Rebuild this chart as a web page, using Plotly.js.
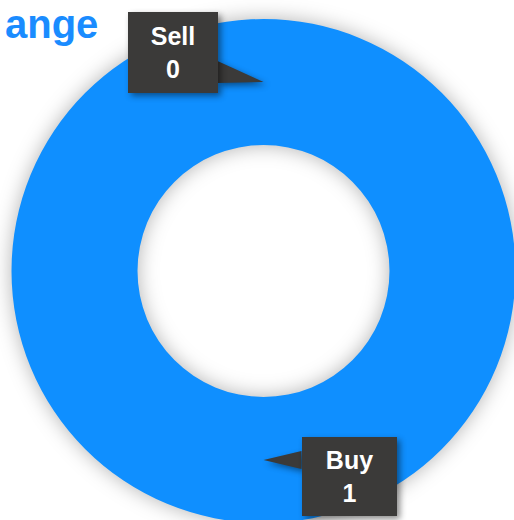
<!DOCTYPE html>
<html>
<head>
<meta charset="utf-8">
<script src="https://cdn.plot.ly/plotly-3.0.1.min.js"></script>
<style>
  html, body { margin: 0; padding: 0; overflow: hidden; background: #fff; }
  #chart { width: 520px; height: 524px; }
  .pielayer path.surface { filter: drop-shadow(0px 0px 10px rgba(0,0,0,0.3)); }
  .shapelayer path, .annotation-text-g rect.bg { filter: drop-shadow(3px 3px 3px rgba(0,0,0,0.45)); }
</style>
</head>
<body>
<div id="chart"></div>
<script>
// ---- data ----
const labels = ['Buy', 'Sell'];
const values = [1, 0];
const titleText = 'ange';

// ---- style / layout config ----
const W = 520, H = 524;
const M = { l: 11, r: 4, t: 19, b: 1 };
const HOLE = 0.5;
const sliceColor = '#0f8fff';
const boxColor = '#3b3a39';
// callout geometry per slice (pixels relative to the ring mid-point of the slice; y down)
const callout = {
  Buy:  { dx: 85.5, dy: 16.5, w: 95, h: 79, tri: 'M0,0 L38,9 L38,-9 Z' },
  Sell: { dx: -91,  dy: -29.5, w: 90, h: 81, tri: 'M0,0 L-46,21 L-46,-1 Z' }
};

const plotW = W - M.l - M.r, plotH = H - M.t - M.b;
const R = Math.min(plotW, plotH) / 2;
const rMid = R * (1 + HOLE) / 2;
const total = values.reduce((a, b) => a + b, 0);

const annotations = [];
const shapes = [];
let cum = 0;
labels.forEach((lab, i) => {
  const frac = (cum + values[i] / 2) / total;
  cum += values[i];
  const theta = frac * 2 * Math.PI; // from 12 o'clock, counterclockwise
  const tipPx = { x: plotW / 2 - rMid * Math.sin(theta), y: plotH / 2 - rMid * Math.cos(theta) }; // y from top
  const px = tipPx.x / plotW, py = 1 - tipPx.y / plotH; // paper coords (y from bottom)
  const c = callout[lab];
  shapes.push({
    type: 'path', xref: 'paper', yref: 'paper', layer: 'above',
    xsizemode: 'pixel', ysizemode: 'pixel', xanchor: px, yanchor: py,
    path: c.tri, fillcolor: boxColor, line: { width: 0 }
  });
  annotations.push({
    xref: 'paper', yref: 'paper', x: px, y: py,
    xanchor: 'center', yanchor: 'middle',
    xshift: c.dx, yshift: -c.dy,
    showarrow: false,
    text: lab + '<br>' + values[i],
    font: { family: 'Liberation Sans, Arial, sans-serif', size: 25, color: '#ffffff', weight: 'bold' },
    bgcolor: boxColor, borderpad: 0, borderwidth: 0,
    width: c.w, height: c.h, align: 'center', valign: 'middle'
  });
});

const trace = {
  type: 'pie',
  labels: labels,
  values: values,
  hole: HOLE,
  sort: false,
  direction: 'counterclockwise',
  rotation: 0,
  textinfo: 'none',
  hoverinfo: 'skip',
  showlegend: false,
  marker: { colors: labels.map(() => sliceColor), line: { width: 0 } }
};

const layout = {
  width: W, height: H,
  margin: M,
  paper_bgcolor: '#ffffff',
  plot_bgcolor: '#ffffff',
  showlegend: false,
  title: {
    text: titleText,
    font: { family: 'Liberation Sans, Arial, sans-serif', size: 40, color: '#1a8cff', weight: 'bold' },
    xref: 'container', yref: 'container',
    x: 5 / W, xanchor: 'left',
    y: 1 - 24 / H, yanchor: 'middle'
  },
  shapes: shapes,
  annotations: annotations
};

Plotly.newPlot('chart', [trace], layout, { displayModeBar: false, staticPlot: true });
</script>
</body>
</html>
